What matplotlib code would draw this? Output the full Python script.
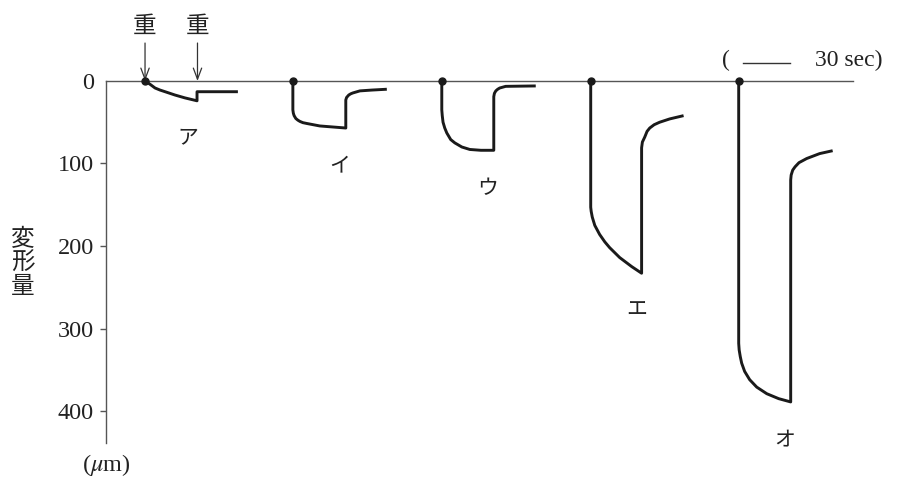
import matplotlib
matplotlib.use("Agg")
import matplotlib.pyplot as plt

plt.rcParams['font.family'] = ['Liberation Serif', 'Noto Sans CJK JP']
plt.rcParams['mathtext.fontset'] = 'stix'

# deformation curves: time after loading (sec), deformation (um)
start_times = [24.9, 119.3, 214.4, 309.5, 404.0]
curve_names = ['ア', 'イ', 'ウ', 'エ', 'オ']

t_a = [0, 1.6, 3.2, 6.4, 9.6, 12.8, 19.1, 25.5, 33.2, 33.2, 59.3]
d_a = [0, 2, 4, 8.5, 11, 13, 17, 20.5, 24, 13, 13]

t_i = [0, 0, 0.3, 0.8, 1.9, 3.2, 4.5, 6.4, 8.9, 17.2, 33.8,
       33.8, 34.3, 35.7, 37.0, 38.3, 42.8, 50.4, 60.0]
d_i = [0, 35, 39, 42, 45.5, 47.5, 49, 50.5, 51.5, 54.5, 57,
       23, 20, 17, 15.5, 14.5, 12, 11, 10]

t_u = [0, 0, 0.3, 0.8, 1.9, 3.2, 5.7, 8.3, 12.8, 17.9, 25.0, 33.2,
       33.2, 33.6, 34.5, 35.7, 37.0, 40.8, 60.0]
d_u = [0, 35, 42, 50, 57, 63, 71, 75, 80, 83, 84, 84,
       19, 15, 12, 10, 8.5, 6.5, 6]

t_e = [0, 0, 0.3, 1.0, 2.6, 5.7, 9.0, 12.1, 18.5, 26.2, 32.5,
       32.5, 33.0, 34.5, 36.0, 37.7, 40.5, 44.0, 50.4, 59.3]
d_e = [0, 153, 158, 165, 175, 186, 195, 202, 214, 225, 233,
       81, 74, 68, 61, 57, 53, 50, 46, 42]

t_o = [0, 0, 0.3, 1.0, 1.9, 3.8, 7.0, 11.5, 17.9, 25.5, 33.2,
       33.2, 33.5, 34.5, 36.0, 38.5, 43.4, 51.7, 60.0]
d_o = [0, 318, 326, 334, 342, 352, 362, 371, 379, 385, 389,
       120, 114, 108, 104, 99, 94, 88, 84.5]

curves_t = [t_a, t_i, t_u, t_e, t_o]
curves_d = [d_a, d_i, d_u, d_e, d_o]

# label positions (sec, um)
label_t = [52.3, 149.3, 243.8, 338.9, 433.3]
label_d = [68, 102, 130, 278, 435]

# weight (重) arrows for curve ア
weight_t = [24.9, 58.4]

y_ticks = [0, 100, 200, 300, 400]

fig = plt.figure(figsize=(9.04, 4.87), dpi=100)
ax = fig.add_axes([0.1173, 0.0903, 0.8263, 0.7434])

for t0, ts, ds in zip(start_times, curves_t, curves_d):
    ax.plot([t0 + t for t in ts], ds, color='#1a1a1a', lw=2.1,
            solid_joinstyle='round', solid_capstyle='butt', clip_on=False, zorder=3)
    ax.plot([t0], [0], 'o', color='#1a1a1a', ms=5, clip_on=False, zorder=4)

for name, lt, ld in zip(curve_names, label_t, label_d):
    ax.text(lt, ld, name, fontsize=15, ha='center', va='center',
            family=['Noto Sans CJK JP'], color='#222')

for wt in weight_t:
    ax.annotate('', xy=(wt, 0), xytext=(wt, -46),
                arrowprops=dict(arrowstyle='->,head_length=0.8,head_width=0.3',
                                color='#333', lw=0.9, mutation_scale=10,
                                shrinkA=0, shrinkB=0),
                annotation_clip=False)
    ax.text(wt, -66, '重', fontsize=17, ha='center', va='center',
            family=['Noto Sans CJK JP'], color='#222', clip_on=False)

# time scale bar
ax.text(396, -25, '(', fontsize=17, ha='center', va='center', color='#222')
ax.plot([406.5, 436.5], [-22, -22], color='#333', lw=1.0, clip_on=False)
ax.text(453, -25, '30 sec)', fontsize=17, ha='left', va='center', color='#222')

ax.set_xlim(0, 477)
ax.set_ylim(438.8, 0)

for side in ['right', 'bottom']:
    ax.spines[side].set_visible(False)
for side in ['left', 'top']:
    ax.spines[side].set_color('#555')
    ax.spines[side].set_linewidth(1.0)

ax.set_xticks([])
ax.set_yticks(y_ticks)
ax.set_yticklabels([str(v) for v in y_ticks], fontsize=17.5, color='#222')
ax.tick_params(axis='y', direction='out', length=4.3, width=1.0, color='#555', pad=4.5)
ax.yaxis.get_major_ticks()[0].tick1line.set_visible(False)

fig.text(23 / 904, 1 - 263 / 487, '変\n形\n量', fontsize=17, ha='center', va='center',
         family=['Noto Sans CJK JP'], color='#222', linespacing=1.05)
fig.text(106 / 904, 1 - 465 / 487, r'($\mu$m)', fontsize=17.5, ha='center', va='center',
         color='#222')

fig.savefig('out.png', dpi=100, facecolor='white')
